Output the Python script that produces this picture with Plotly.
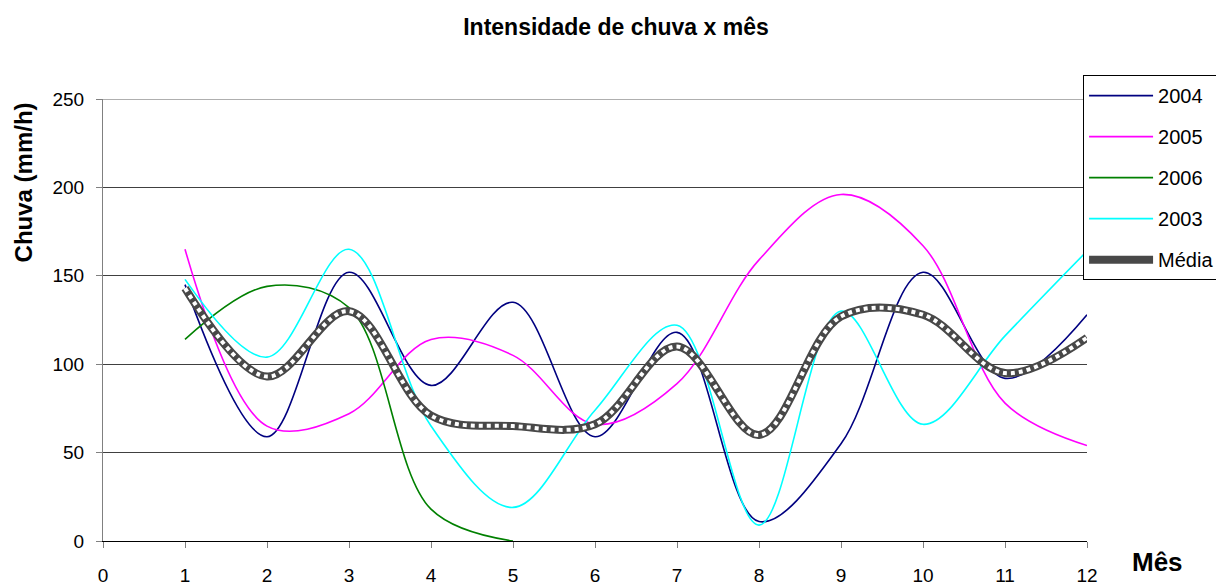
import plotly.graph_objects as go

# Monthly rain intensity (mm/h)
meses = list(range(1, 13))
chuva_2004 = [145, 59, 152, 88, 135, 59, 118, 11, 55, 152, 92, 128]
chuva_2005 = [165, 65, 72, 114, 105, 66, 89, 159, 196, 167, 78, 54]
chuva_2006 = [114, 144, 132, 18, 0]  # only Jan-May
chuva_2003 = [148, 104, 165, 65, 19, 74, 122, 9, 130, 66, 116, 164]
media = [143, 93, 130, 71, 65, 66, 110, 60, 127, 128, 95, 115]

FONT = "Liberation Sans, Arial, sans-serif"

fig = go.Figure()

series = [
    ("2004", meses, chuva_2004, "#000080"),
    ("2005", meses, chuva_2005, "#FF00FF"),
    ("2006", meses[:len(chuva_2006)], chuva_2006, "#008000"),
    ("2003", meses, chuva_2003, "#00FFFF"),
]
for name, xs, ys, color in series:
    fig.add_trace(go.Scatter(
        x=xs, y=ys, name=name, mode="lines", legendgroup=name,
        line=dict(color=color, width=1.6, shape="spline", smoothing=1),
    ))

# textured average line: dark base + light dotted overlay
fig.add_trace(go.Scatter(
    x=meses, y=media, name="Média", mode="lines", legendgroup="media",
    line=dict(color="#484848", width=8, shape="spline", smoothing=1),
))
fig.add_trace(go.Scatter(
    x=meses, y=media, mode="lines", legendgroup="media", showlegend=False,
    line=dict(color="white", width=4, dash="dot", shape="spline", smoothing=1),
))

# page body has an 8px margin, so the figure is a bit smaller
fig.update_layout(
    width=1216, height=580,
    margin=dict(l=95, r=137, t=91, b=47, autoexpand=False),
    paper_bgcolor="white", plot_bgcolor="white",
    font=dict(family=FONT, size=19, color="black"),
    title=dict(text="<b>Intensidade de chuva x mês</b>", x=0.5, xanchor="center",
               y=0.968, yanchor="middle", font=dict(size=23)),
    legend=dict(x=0.996, y=1.054, xanchor="left", yanchor="top",
                bordercolor="black", borderwidth=1, bgcolor="white",
                font=dict(size=20), traceorder="grouped", tracegroupgap=12,
                itemwidth=64),
    showlegend=True,
)

fig.update_xaxes(
    range=[0, 12], dtick=1, tick0=0, showgrid=False, zeroline=False,
    showline=True, linecolor="black", linewidth=1,
    ticks="outside", ticklen=6, tickcolor="#808080",
    ticklabelstandoff=11, tickfont=dict(size=19), automargin=False,
)
fig.update_yaxes(
    range=[0, 250], dtick=50, showgrid=True, gridcolor="#404040", gridwidth=1,
    zeroline=False, showline=True, linecolor="#808080", linewidth=1,
    ticks="outside", ticklen=6, tickcolor="#808080",
    ticklabelstandoff=8, tickfont=dict(size=19), automargin=False,
)

# top gridline at 250 (plotly drops the grid line on the plot edge)
fig.add_shape(type="line", xref="paper", yref="y", x0=0, x1=1, y0=250, y1=250,
              line=dict(color="#606060", width=1), layer="below")

fig.add_annotation(text="<b>Chuva (mm/h)</b>", textangle=-90, xref="paper", yref="paper",
                   x=-0.081, y=0.812, xanchor="center", yanchor="middle",
                   showarrow=False, font=dict(size=24))
fig.add_annotation(text="<b>Mês</b>", xref="paper", yref="paper",
                   x=1.072, y=-0.047, xanchor="center", yanchor="middle",
                   showarrow=False, font=dict(size=26))

fig.write_html("out.html")
